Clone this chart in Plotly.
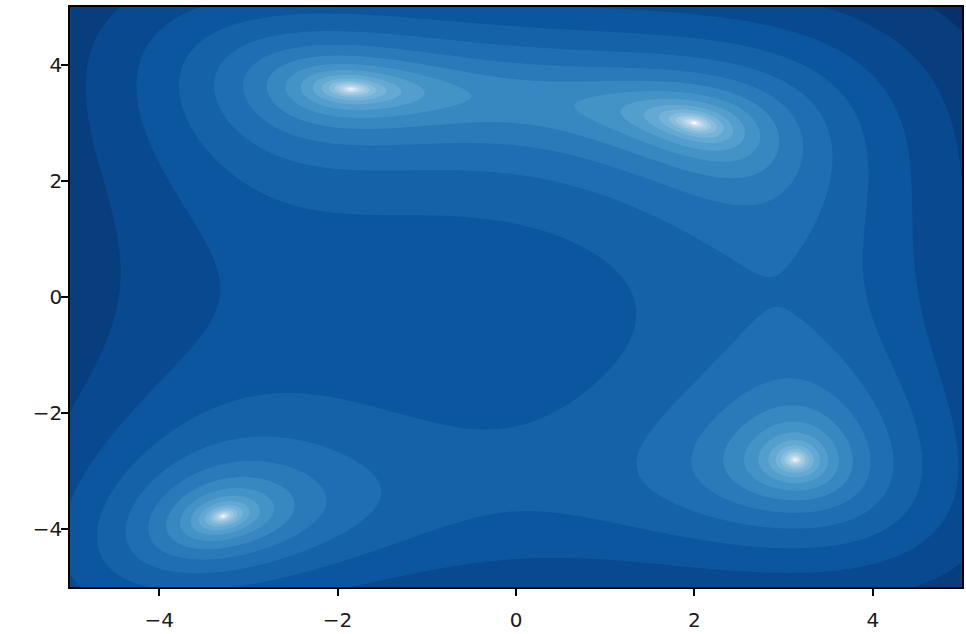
import numpy as np
import plotly.graph_objects as go

# ---- data -------------------------------------------------------------
# Himmelblau-type surface shown in the reference (axes transposed):
# Z(x, y) = (y^2 + x - A)^2 + (y + x^2 - B)^2
A_CONST = 11.0
B_CONST = 7.0
x_vals = np.linspace(-5, 5, 321)
y_vals = np.linspace(-5, 5, 321)

# contour levels: natural-log spacing of 0.6 (band index k -> exp(0.6 k))
LOG_STEP = 0.6
LEVEL_START = -9
LEVEL_END = 11

x_ticks = [-4, -2, 0, 2, 4]
y_ticks = [-4, -2, 0, 2, 4]

# matplotlib "Blues" control colours
blues = ["#f7fbff", "#deebf7", "#c6dbef", "#9ecae1", "#6baed6",
         "#4292c6", "#2171b5", "#08519c", "#08306b"]

# ---- build ------------------------------------------------------------
XX, YY = np.meshgrid(x_vals, y_vals)
Z = (YY ** 2 + XX - A_CONST) ** 2 + (YY + XX ** 2 - B_CONST) ** 2
Zlog = np.log(np.maximum(Z, 1e-12)) / LOG_STEP

colorscale = [[i / (len(blues) - 1), c] for i, c in enumerate(blues)]

fig = go.Figure(
    go.Contour(
        x=x_vals, y=y_vals, z=Zlog,
        colorscale=colorscale,
        showscale=False,
        contours=dict(start=LEVEL_START, end=LEVEL_END, size=1,
                      coloring="fill", showlines=False),
        line=dict(width=0),
        hoverinfo="skip",
    )
)

axis_common = dict(
    showgrid=False, zeroline=False,
    showline=True, linecolor="black", linewidth=1.5, mirror=True,
    ticks="outside", ticklen=7, tickwidth=1.5, tickcolor="black",
    tickfont=dict(family="DejaVu Sans", size=20, color="#1a1a1a"),
)

fig.update_xaxes(range=[-5, 5], tickvals=x_ticks, ticklabelstandoff=7,
                 **axis_common)
fig.update_yaxes(range=[-5, 5], tickvals=y_ticks, ticklabelstandoff=-5,
                 **axis_common)

fig.update_layout(
    width=966, height=634,
    margin=dict(l=70, r=2, t=7, b=46),
    paper_bgcolor="white", plot_bgcolor="white",
    showlegend=False,
)

fig.write_html("out.html")
